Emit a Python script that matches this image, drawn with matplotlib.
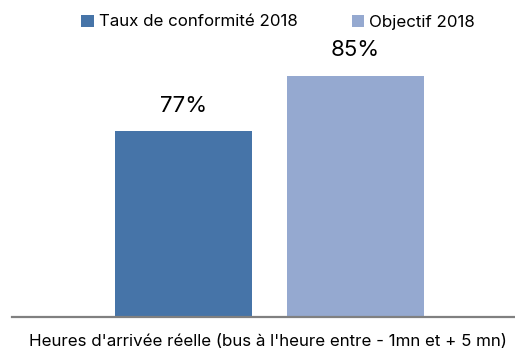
import matplotlib.pyplot as plt

# taux de ponctualite des bus, 2018
series = ["Taux de conformité 2018", "Objectif 2018"]
values = [77, 85]
colors = ["#4674a8", "#95a9d0"]
xlabel = "Heures d'arrivée réelle (bus à l'heure entre - 1mn et + 5 mn)"

plt.rcParams['font.family'] = ['Inter', 'DejaVu Sans']

fig = plt.figure(figsize=(5.15, 3.51), dpi=100)
ax = fig.add_axes([12 / 515, 1 - 317 / 351, 503 / 515, (317 - 41) / 351])

bars = []
for i in range(len(values)):
    b = ax.bar(i, values[i], width=0.8, color=colors[i], label=series[i], bottom=0)
    bars.append(b)
    ax.text(i, values[i] + 2.2, "%d%%" % values[i], ha='center', va='bottom', fontsize=16)

ax.set_ylim(50, 90)
ax.set_xlim(-1.0, 1.93)
for s in ['top', 'right', 'left']:
    ax.spines[s].set_visible(False)
ax.spines['bottom'].set_color('#808080')
ax.spines['bottom'].set_linewidth(1.6)
ax.set_xticks([])
ax.set_yticks([])

fig.text(268 / 515, 1 - 342 / 351, xlabel, ha='center', va='center', fontsize=12.2)

fig.legend(loc='center', bbox_to_anchor=(278 / 515, 1 - 22 / 351), ncol=2, frameon=False,
           fontsize=12.2, handlelength=0.72, handleheight=0.72, handletextpad=0.3,
           columnspacing=3.2)

fig.savefig("out.png", dpi=100)
